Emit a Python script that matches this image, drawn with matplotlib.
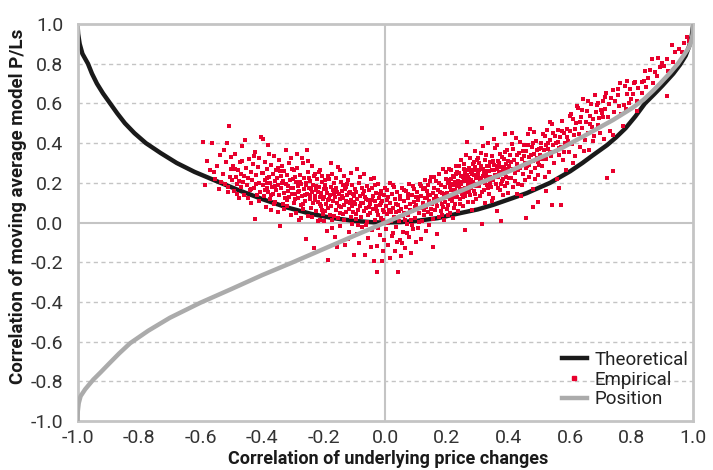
import numpy as np
import matplotlib.pyplot as plt
from matplotlib.lines import Line2D

"""
Correlation of moving average model P/Ls against correlation of the
underlying price changes: theoretical curve, empirical points, position.
"""

plt.rcParams['font.family'] = ['Roboto', 'DejaVu Sans']

# Theoretical curve
theo_x = [-1.0, -0.998, -0.993, -0.984, -0.966, -0.953, -0.937, -0.917, -0.894, -0.871, -0.846,
          -0.815, -0.778, -0.73, -0.678, -0.62, -0.548, -0.472, -0.4, -0.32, -0.24, -0.17,
          -0.1, -0.04, 0.0, 0.05, 0.1, 0.17, 0.242, 0.3, 0.35, 0.4, 0.459, 0.535, 0.6,
          0.64, 0.675, 0.72, 0.75, 0.78, 0.812, 0.843, 0.872, 0.9, 0.935, 0.957, 0.975,
          0.987, 0.995, 1.0]
theo_y = [1.0, 0.95, 0.9, 0.85, 0.8, 0.75, 0.7, 0.65, 0.6, 0.55, 0.5,
          0.45, 0.4, 0.35, 0.3, 0.255, 0.208, 0.16, 0.118, 0.076, 0.043, 0.022,
          0.008, 0.001, 0.0, 0.002, 0.008, 0.022, 0.047, 0.066, 0.089, 0.116, 0.148, 0.2, 0.258,
          0.3, 0.34, 0.39, 0.43, 0.475, 0.535, 0.6, 0.645, 0.69, 0.75, 0.795, 0.84,
          0.89, 0.94, 1.0]

# Position curve
pos_x = [-1.0, -0.999, -0.996, -0.99, -0.975, -0.949, -0.925, -0.9, -0.865, -0.829, -0.77,
         -0.7, -0.602, -0.5, -0.4, -0.3, -0.2, -0.1, 0.0, 0.1, 0.2, 0.3, 0.405, 0.5,
         0.567, 0.65, 0.74, 0.8, 0.838, 0.87, 0.892, 0.924, 0.95, 0.97, 0.985, 0.993,
         0.998, 1.0]
pos_y = [-1.0, -0.95, -0.91, -0.875, -0.84, -0.792, -0.755, -0.715, -0.66, -0.608, -0.545,
         -0.48, -0.405, -0.335, -0.265, -0.2, -0.133, -0.066, 0.0, 0.066, 0.13, 0.195, 0.26, 0.325,
         0.37, 0.44, 0.517, 0.575, 0.618, 0.665, 0.7, 0.753, 0.8, 0.845, 0.88, 0.91,
         0.95, 1.0]

# Empirical points (x, y), grouped by x band
empirical = [
    # -0.6 .. -0.5
    (-0.592, 0.405), (-0.563, 0.403), (-0.515, 0.400), (-0.508, 0.484), (-0.578, 0.312), (-0.571, 0.262),
    (-0.553, 0.218), (-0.547, 0.287), (-0.541, 0.168), (-0.536, 0.341), (-0.529, 0.242), (-0.522, 0.196),
    (-0.518, 0.305), (-0.512, 0.153), (-0.506, 0.227), (-0.502, 0.269), (-0.585, 0.187), (-0.558, 0.252),
    (-0.533, 0.205), (-0.525, 0.366), (-0.511, 0.181), (-0.503, 0.332),
    # -0.5 .. -0.4
    (-0.497, 0.212), (-0.494, 0.286), (-0.491, 0.158), (-0.488, 0.347), (-0.485, 0.231), (-0.482, 0.196),
    (-0.479, 0.264), (-0.476, 0.122), (-0.473, 0.305), (-0.470, 0.178), (-0.468, 0.243), (-0.465, 0.387),
    (-0.462, 0.205), (-0.459, 0.141), (-0.456, 0.417), (-0.453, 0.273), (-0.450, 0.189), (-0.447, 0.226),
    (-0.444, 0.318), (-0.441, 0.163), (-0.438, 0.252), (-0.436, 0.098), (-0.433, 0.214), (-0.430, 0.296),
    (-0.427, 0.175), (-0.424, 0.357), (-0.423, 0.019), (-0.421, 0.238), (-0.418, 0.137), (-0.415, 0.279),
    (-0.412, 0.201), (-0.409, 0.323), (-0.406, 0.156), (-0.404, 0.430), (-0.402, 0.247), (-0.419, 0.192),
    (-0.437, 0.169), (-0.458, 0.233), (-0.474, 0.208), (-0.489, 0.271), (-0.445, 0.121), (-0.428, 0.334),
    (-0.411, 0.109), (-0.466, 0.312), (-0.483, 0.144),
    # -0.4 .. -0.3
    (-0.398, 0.188), (-0.396, 0.251), (-0.394, 0.132), (-0.392, 0.306), (-0.390, 0.214), (-0.388, 0.077),
    (-0.386, 0.173), (-0.384, 0.268), (-0.382, 0.156), (-0.380, 0.389), (-0.378, 0.229), (-0.376, 0.118),
    (-0.374, 0.197), (-0.372, 0.291), (-0.370, 0.064), (-0.368, 0.181), (-0.366, 0.243), (-0.364, 0.142),
    (-0.362, 0.336), (-0.360, 0.207), (-0.358, 0.103), (-0.356, 0.262), (-0.354, 0.166), (-0.352, 0.224),
    (-0.350, 0.051), (-0.348, 0.188), (-0.346, 0.316), (-0.344, 0.137), (-0.342, -0.017), (-0.340, 0.235),
    (-0.338, 0.172), (-0.336, 0.284), (-0.334, 0.094), (-0.332, 0.209), (-0.330, 0.148), (-0.328, 0.257),
    (-0.326, 0.121), (-0.324, 0.363), (-0.322, 0.193), (-0.320, 0.082), (-0.318, 0.241), (-0.316, 0.159),
    (-0.314, 0.298), (-0.312, 0.127), (-0.310, 0.215), (-0.308, 0.039), (-0.306, 0.176), (-0.304, 0.268),
    (-0.302, 0.143), (-0.301, 0.221), (-0.391, 0.163), (-0.377, 0.347), (-0.363, 0.091), (-0.349, 0.273),
    (-0.335, 0.199), (-0.321, 0.113), (-0.307, 0.324), (-0.385, 0.225), (-0.371, 0.141), (-0.357, 0.185),
    (-0.343, 0.258), (-0.329, 0.068), (-0.315, 0.182), (-0.399, 0.421), (-0.383, 0.201),
    # -0.3 .. -0.2
    (-0.299, 0.172), (-0.297, 0.098), (-0.295, 0.231), (-0.293, 0.146), (-0.291, 0.047), (-0.289, 0.203),
    (-0.287, 0.274), (-0.285, 0.121), (-0.283, 0.185), (-0.281, 0.013), (-0.279, 0.157), (-0.277, 0.239),
    (-0.275, 0.086), (-0.273, 0.196), (-0.271, 0.131), (-0.269, 0.301), (-0.267, 0.067), (-0.265, 0.168),
    (-0.263, 0.222), (-0.261, 0.109), (-0.259, -0.084), (-0.257, 0.187), (-0.256, 0.366), (-0.254, 0.142),
    (-0.252, 0.254), (-0.250, 0.033), (-0.248, 0.176), (-0.246, 0.118), (-0.244, 0.209), (-0.242, 0.071),
    (-0.240, 0.153), (-0.238, 0.283), (-0.236, 0.097), (-0.234, 0.191), (-0.232, -0.129), (-0.230, 0.136),
    (-0.228, 0.244), (-0.226, 0.058), (-0.224, 0.163), (-0.222, 0.217), (-0.220, 0.104), (-0.218, 0.008),
    (-0.216, 0.179), (-0.214, 0.129), (-0.212, 0.262), (-0.210, 0.081), (-0.208, 0.148), (-0.206, 0.203),
    (-0.204, 0.042), (-0.202, 0.117), (-0.201, 0.171), (-0.296, 0.262), (-0.284, 0.152), (-0.272, 0.324),
    (-0.262, 0.141), (-0.249, 0.226), (-0.237, 0.026), (-0.225, 0.185), (-0.213, 0.093), (-0.205, 0.236),
    (-0.292, 0.119), (-0.278, 0.204), (-0.266, 0.091), (-0.253, 0.309), (-0.241, 0.167), (-0.229, 0.114),
    (-0.217, 0.252), (-0.207, 0.061), (-0.288, 0.345), (-0.274, 0.021), (-0.258, 0.198), (-0.245, 0.139),
    (-0.233, 0.232), (-0.219, 0.152), (-0.211, 0.011),
    # -0.2 .. -0.1
    (-0.199, 0.126), (-0.197, 0.058), (-0.195, 0.187), (-0.193, 0.094), (-0.191, -0.042), (-0.189, 0.151),
    (-0.187, -0.188), (-0.185, 0.113), (-0.183, 0.219), (-0.181, 0.036), (-0.179, 0.137), (-0.177, 0.083),
    (-0.175, 0.246), (-0.173, 0.011), (-0.171, 0.164), (-0.169, 0.107), (-0.167, 0.198), (-0.165, -0.071),
    (-0.163, 0.129), (-0.161, 0.062), (-0.159, 0.173), (-0.157, 0.097), (-0.155, 0.282), (-0.153, 0.024),
    (-0.151, 0.145), (-0.149, 0.118), (-0.147, -0.019), (-0.145, 0.206), (-0.143, 0.076), (-0.141, 0.159),
    (-0.139, 0.041), (-0.137, 0.124), (-0.135, 0.234), (-0.133, 0.089), (-0.131, -0.112), (-0.129, 0.177),
    (-0.127, 0.052), (-0.125, 0.138), (-0.123, 0.101), (-0.121, 0.212), (-0.119, -0.046), (-0.117, 0.069),
    (-0.115, 0.156), (-0.113, 0.115), (-0.111, 0.027), (-0.109, 0.188), (-0.107, 0.083), (-0.105, 0.142),
    (-0.103, -0.164), (-0.101, 0.104), (-0.196, 0.213), (-0.186, 0.071), (-0.176, 0.181), (-0.166, 0.031),
    (-0.156, 0.152), (-0.146, 0.264), (-0.136, 0.012), (-0.126, 0.196), (-0.116, 0.098), (-0.106, 0.052),
    (-0.192, 0.167), (-0.182, 0.118), (-0.172, -0.028), (-0.162, 0.226), (-0.152, 0.083), (-0.142, 0.131),
    (-0.132, 0.167), (-0.122, -0.083), (-0.112, 0.247), (-0.102, 0.136), (-0.198, 0.006), (-0.178, 0.298),
    (-0.158, -0.121), (-0.138, 0.191), (-0.118, 0.149), (-0.108, -0.007), (-0.188, 0.233), (-0.168, 0.143),
    (-0.148, 0.046), (-0.128, 0.109),
    # -0.1 .. 0.0
    (-0.099, 0.091), (-0.097, 0.017), (-0.095, 0.152), (-0.093, -0.058), (-0.091, 0.118), (-0.089, 0.063),
    (-0.087, 0.201), (-0.085, -0.103), (-0.083, 0.084), (-0.081, 0.136), (-0.079, 0.029), (-0.077, 0.172),
    (-0.075, -0.021), (-0.073, 0.099), (-0.071, 0.245), (-0.069, 0.056), (-0.067, -0.163), (-0.065, 0.127),
    (-0.063, 0.074), (-0.061, 0.183), (-0.059, 0.003), (-0.057, 0.111), (-0.055, -0.077), (-0.053, 0.162),
    (-0.051, 0.046), (-0.049, 0.093), (-0.047, 0.219), (-0.045, 0.173), (-0.043, -0.038), (-0.041, 0.132),
    (-0.039, 0.068), (-0.037, -0.192), (-0.035, 0.106), (-0.033, 0.014), (-0.031, 0.149), (-0.029, 0.081),
    (-0.027, -0.117), (-0.026, -0.250), (-0.025, 0.193), (-0.023, 0.037), (-0.021, 0.124), (-0.019, -0.061),
    (-0.017, 0.088), (-0.015, 0.157), (-0.013, 0.021), (-0.012, -0.196), (-0.011, 0.109), (-0.009, 0.064),
    (-0.007, -0.143), (-0.005, 0.138), (-0.003, 0.052), (-0.001, 0.176), (-0.094, 0.043), (-0.084, 0.231),
    (-0.074, 0.142), (-0.064, -0.011), (-0.054, 0.078), (-0.044, 0.114), (-0.034, 0.187), (-0.024, -0.026),
    (-0.014, 0.096), (-0.004, -0.089), (-0.098, 0.167), (-0.088, -0.012), (-0.078, 0.097), (-0.068, 0.158),
    (-0.058, 0.036), (-0.048, -0.124), (-0.038, 0.224), (-0.028, 0.059), (-0.018, 0.146), (-0.008, 0.011),
    (-0.092, 0.268), (-0.062, 0.119), (-0.032, 0.071),
    # 0.0 .. 0.1
    (0.001, 0.083), (0.003, -0.034), (0.004, 0.165), (0.006, 0.041), (0.008, -0.112), (0.010, 0.127),
    (0.012, 0.062), (0.014, -0.181), (0.016, 0.098), (0.018, 0.009), (0.020, 0.143), (0.022, -0.067),
    (0.024, 0.071), (0.026, 0.188), (0.028, 0.027), (0.030, -0.142), (0.032, 0.116), (0.034, 0.052),
    (0.036, -0.021), (0.038, 0.152), (0.040, 0.089), (0.042, -0.247), (0.044, 0.006), (0.046, 0.131),
    (0.048, -0.088), (0.050, -0.171), (0.052, 0.068), (0.054, 0.174), (0.056, 0.031), (0.058, -0.046),
    (0.060, 0.109), (0.062, 0.047), (0.064, -0.128), (0.066, 0.158), (0.068, 0.079), (0.070, -0.009),
    (0.072, 0.121), (0.074, 0.038), (0.076, -0.073), (0.078, 0.192), (0.080, 0.094), (0.082, 0.015),
    (0.084, -0.156), (0.086, 0.137), (0.088, 0.058), (0.090, -0.031), (0.092, 0.103), (0.094, 0.169),
    (0.096, 0.024), (0.098, -0.097), (0.005, 0.112), (0.015, 0.201), (0.025, -0.052), (0.035, 0.092),
    (0.045, 0.057), (0.055, -0.102), (0.065, 0.012), (0.075, 0.146), (0.085, -0.014), (0.095, 0.077),
    (0.009, -0.004), (0.019, 0.051), (0.029, 0.177), (0.039, -0.099), (0.049, 0.119), (0.059, 0.163),
    (0.069, -0.054), (0.079, 0.062), (0.089, 0.183), (0.099, 0.128),
    # 0.1 .. 0.2
    (0.101, 0.087), (0.103, 0.152), (0.105, -0.026), (0.107, 0.113), (0.109, 0.046), (0.111, 0.196),
    (0.113, 0.071), (0.115, -0.083), (0.117, 0.134), (0.119, 0.009), (0.121, 0.168), (0.123, 0.098),
    (0.125, 0.037), (0.127, 0.214), (0.129, 0.121), (0.131, -0.041), (0.133, 0.079), (0.135, 0.157),
    (0.137, 0.053), (0.139, 0.189), (0.141, 0.106), (0.143, -0.012), (0.145, 0.141), (0.147, 0.068),
    (0.149, 0.231), (0.151, 0.092), (0.153, 0.017), (0.155, -0.121), (0.157, 0.173), (0.159, 0.119),
    (0.161, 0.061), (0.163, 0.207), (0.165, 0.136), (0.167, -0.058), (0.169, 0.084), (0.171, 0.162),
    (0.173, 0.029), (0.175, 0.244), (0.177, 0.113), (0.179, 0.187), (0.181, 0.056), (0.183, 0.148),
    (0.185, 0.092), (0.187, 0.271), (0.189, 0.131), (0.191, 0.012), (0.193, 0.178), (0.195, 0.102),
    (0.197, 0.221), (0.199, 0.066), (0.104, 0.126), (0.114, 0.183), (0.124, 0.061), (0.134, 0.121),
    (0.144, 0.209), (0.154, 0.147), (0.164, 0.101), (0.174, 0.201), (0.184, 0.037), (0.194, 0.143),
    (0.108, 0.004), (0.118, 0.073), (0.128, 0.176), (0.138, 0.137), (0.148, 0.043), (0.158, 0.228),
    (0.168, 0.119), (0.178, 0.152), (0.188, 0.078), (0.198, 0.254),
    # 0.2 .. 0.3
    (0.201, 0.151), (0.203, 0.086), (0.205, 0.213), (0.207, 0.128), (0.209, 0.047), (0.211, 0.178),
    (0.213, 0.262), (0.215, 0.109), (0.217, 0.196), (0.219, 0.141), (0.221, 0.023), (0.223, 0.231),
    (0.225, 0.162), (0.227, 0.094), (0.229, 0.287), (0.231, 0.184), (0.233, 0.126), (0.235, 0.207),
    (0.237, 0.058), (0.239, 0.248), (0.241, 0.169), (0.243, 0.117), (0.245, 0.313), (0.247, 0.193),
    (0.249, 0.142), (0.251, 0.227), (0.253, 0.081), (0.255, 0.268), (0.257, 0.176), (0.258, -0.037),
    (0.259, 0.211), (0.261, 0.153), (0.263, 0.338), (0.265, 0.238), (0.267, 0.104), (0.269, 0.189),
    (0.271, 0.276), (0.273, 0.221), (0.275, 0.137), (0.277, 0.253), (0.279, 0.173), (0.281, 0.061),
    (0.283, 0.297), (0.285, 0.204), (0.287, 0.241), (0.289, 0.158), (0.291, 0.362), (0.293, 0.224),
    (0.295, 0.119), (0.297, 0.267), (0.299, 0.196), (0.202, 0.197), (0.206, 0.272), (0.210, 0.119),
    (0.214, 0.163), (0.218, 0.236), (0.222, 0.072), (0.226, 0.204), (0.230, 0.143), (0.234, 0.254),
    (0.238, 0.188), (0.242, 0.091), (0.246, 0.236), (0.250, 0.171), (0.254, 0.293), (0.258, 0.134),
    (0.262, 0.214), (0.266, 0.262), (0.270, 0.156), (0.274, 0.327), (0.278, 0.214), (0.282, 0.242),
    (0.286, 0.103), (0.290, 0.281), (0.294, 0.186), (0.298, 0.314), (0.204, 0.039), (0.212, 0.218),
    (0.220, 0.187), (0.228, 0.246), (0.236, 0.152), (0.244, 0.204), (0.252, 0.126), (0.260, 0.251),
    (0.264, 0.408), (0.268, 0.229), (0.276, 0.183), (0.284, 0.262), (0.292, 0.146), (0.296, 0.233),
    (0.224, 0.129), (0.240, 0.283), (0.256, 0.218), (0.272, 0.197), (0.288, 0.307),
    # 0.3 .. 0.4
    (0.301, 0.243), (0.303, 0.182), (0.305, 0.298), (0.307, 0.131), (0.309, 0.226), (0.311, 0.351),
    (0.313, 0.475), (0.313, -0.007), (0.315, 0.204), (0.317, 0.272), (0.319, 0.163), (0.321, 0.249),
    (0.323, 0.316), (0.325, 0.097), (0.327, 0.219), (0.329, 0.284), (0.331, 0.187), (0.333, 0.401),
    (0.335, 0.257), (0.337, 0.142), (0.339, 0.231), (0.341, 0.306), (0.343, 0.178), (0.345, 0.264),
    (0.347, 0.336), (0.349, 0.213), (0.351, 0.121), (0.353, 0.289), (0.355, 0.241), (0.357, 0.373),
    (0.359, 0.196), (0.361, 0.268), (0.363, 0.057), (0.365, 0.227), (0.367, 0.311), (0.369, 0.253),
    (0.371, 0.164), (0.373, 0.347), (0.375, 0.009), (0.377, 0.282), (0.379, 0.209), (0.381, 0.263),
    (0.383, 0.138), (0.385, 0.322), (0.387, 0.246), (0.388, 0.447), (0.389, 0.186), (0.391, 0.293),
    (0.393, 0.231), (0.395, 0.366), (0.397, 0.271), (0.399, 0.148), (0.302, 0.326), (0.306, 0.216),
    (0.310, 0.287), (0.314, 0.153), (0.318, 0.232), (0.322, 0.201), (0.326, 0.342), (0.330, 0.258),
    (0.334, 0.172), (0.338, 0.284), (0.342, 0.223), (0.346, 0.108), (0.350, 0.312), (0.354, 0.267),
    (0.358, 0.233), (0.362, 0.392), (0.366, 0.176), (0.370, 0.298), (0.374, 0.242), (0.378, 0.331),
    (0.382, 0.217), (0.386, 0.281), (0.390, 0.354), (0.394, 0.199), (0.398, 0.311), (0.304, 0.262),
    (0.316, 0.387), (0.328, 0.239), (0.340, 0.199), (0.352, 0.419), (0.364, 0.287), (0.376, 0.193),
    (0.392, 0.262),
    # 0.4 .. 0.5
    (0.401, 0.287), (0.404, 0.341), (0.407, 0.226), (0.410, 0.394), (0.413, 0.268), (0.416, 0.179),
    (0.419, 0.317), (0.422, 0.251), (0.425, 0.426), (0.428, 0.296), (0.431, 0.193), (0.434, 0.352),
    (0.437, 0.274), (0.440, 0.134), (0.443, 0.318), (0.446, 0.243), (0.449, 0.389), (0.452, 0.301),
    (0.455, 0.213), (0.457, 0.025), (0.458, 0.361), (0.461, 0.286), (0.464, 0.448), (0.467, 0.331),
    (0.470, 0.470), (0.472, 0.256), (0.475, 0.379), (0.478, 0.308), (0.481, 0.167), (0.484, 0.346),
    (0.487, 0.277), (0.490, 0.412), (0.493, 0.323), (0.496, 0.239), (0.499, 0.368), (0.478, 0.078),
    (0.497, 0.101), (0.402, 0.223), (0.408, 0.306), (0.414, 0.371), (0.420, 0.208), (0.426, 0.338),
    (0.432, 0.262), (0.438, 0.405), (0.444, 0.189), (0.450, 0.337), (0.456, 0.274), (0.462, 0.391),
    (0.468, 0.229), (0.474, 0.341), (0.480, 0.398), (0.486, 0.218), (0.492, 0.363), (0.498, 0.291),
    (0.411, 0.452), (0.429, 0.142), (0.447, 0.358), (0.466, 0.289), (0.483, 0.454), (0.494, 0.304),
    # 0.5 .. 0.6
    (0.502, 0.342), (0.505, 0.401), (0.508, 0.287), (0.511, 0.446), (0.514, 0.363), (0.517, 0.231),
    (0.520, 0.392), (0.522, 0.161), (0.523, 0.318), (0.526, 0.468), (0.529, 0.371), (0.532, 0.254),
    (0.535, 0.418), (0.538, 0.336), (0.541, 0.497), (0.542, 0.088), (0.544, 0.389), (0.547, 0.298),
    (0.550, 0.437), (0.553, 0.362), (0.556, 0.221), (0.559, 0.408), (0.562, 0.468), (0.564, 0.173),
    (0.565, 0.341), (0.568, 0.429), (0.570, 0.088), (0.571, 0.382), (0.574, 0.512), (0.577, 0.315),
    (0.580, 0.453), (0.583, 0.398), (0.586, 0.267), (0.589, 0.472), (0.592, 0.412), (0.595, 0.354),
    (0.598, 0.536), (0.504, 0.374), (0.510, 0.318), (0.518, 0.434), (0.527, 0.402), (0.536, 0.357),
    (0.545, 0.452), (0.554, 0.402), (0.563, 0.376), (0.572, 0.459), (0.581, 0.356), (0.590, 0.431),
    (0.599, 0.398), (0.533, 0.506),
    # 0.6 .. 0.7
    (0.601, 0.462), (0.605, 0.394), (0.608, 0.523), (0.612, 0.441), (0.615, 0.334), (0.619, 0.502),
    (0.622, 0.586), (0.626, 0.576), (0.629, 0.448), (0.633, 0.381), (0.636, 0.532), (0.640, 0.474),
    (0.643, 0.621), (0.647, 0.417), (0.650, 0.508), (0.654, 0.561), (0.657, 0.452), (0.661, 0.364),
    (0.664, 0.537), (0.668, 0.598), (0.671, 0.483), (0.675, 0.522), (0.678, 0.436), (0.682, 0.641),
    (0.685, 0.557), (0.689, 0.492), (0.692, 0.604), (0.696, 0.451), (0.699, 0.568), (0.603, 0.547),
    (0.617, 0.471), (0.631, 0.505), (0.645, 0.358), (0.659, 0.612), (0.673, 0.411), (0.687, 0.592),
    (0.610, 0.298), (0.638, 0.566), (0.666, 0.496), (0.694, 0.527),
    # 0.7 .. 0.8
    (0.702, 0.553), (0.706, 0.612), (0.710, 0.422), (0.714, 0.574), (0.719, 0.224), (0.718, 0.652),
    (0.722, 0.531), (0.726, 0.598), (0.730, 0.463), (0.734, 0.627), (0.738, 0.668), (0.740, 0.257),
    (0.742, 0.556), (0.746, 0.611), (0.740, 0.442), (0.754, 0.642), (0.758, 0.586), (0.762, 0.703),
    (0.766, 0.547), (0.773, 0.484), (0.774, 0.592), (0.778, 0.688), (0.782, 0.571), (0.786, 0.646),
    (0.790, 0.603), (0.794, 0.672), (0.798, 0.624), (0.708, 0.534), (0.713, 0.632), (0.756, 0.671),
    (0.784, 0.712),
    # 0.8 .. 0.9
    (0.803, 0.648), (0.808, 0.701), (0.811, 0.709), (0.816, 0.612), (0.822, 0.677), (0.832, 0.710),
    (0.834, 0.654), (0.840, 0.714), (0.846, 0.682), (0.854, 0.727), (0.858, 0.768), (0.865, 0.823),
    (0.870, 0.702), (0.876, 0.756), (0.882, 0.737), (0.886, 0.831), (0.892, 0.781), (0.898, 0.806),
    (0.843, 0.762), (0.818, 0.563),
    # 0.9 .. 1.0
    (0.905, 0.789), (0.914, 0.823), (0.917, 0.764), (0.914, 0.635), (0.930, 0.895), (0.934, 0.811),
    (0.940, 0.861), (0.954, 0.872), (0.962, 0.861), (0.971, 0.905), (0.980, 0.934), (0.985, 0.912),
]
emp_x = [p[0] for p in empirical]
emp_y = [p[1] for p in empirical]

ticks = [-1.0, -0.8, -0.6, -0.4, -0.2, 0.0, 0.2, 0.4, 0.6, 0.8, 1.0]
tick_labels = ['-1.0', '-0.8', '-0.6', '-0.4', '-0.2', '0.0', '0.2', '0.4', '0.6', '0.8', '1.0']

fig = plt.figure(figsize=(7.13, 4.70), dpi=100)
ax = fig.add_axes([77.5 / 713, 1 - 421 / 470, 615.8 / 713, 397 / 470])

# Grid: dashed at every 0.2, solid through zero
for t in ticks[1:-1]:
    if t == 0.0:
        continue
    ax.axhline(t, color='#c4c4c4', lw=1.0, ls=(0, (3, 2.5)), zorder=0)
ax.axhline(0, color='#c4c4c4', lw=1.5, zorder=0)
ax.axvline(0, color='#c4c4c4', lw=1.5, zorder=0)

ax.plot(theo_x, theo_y, color='#1a1a1a', lw=3.2, solid_capstyle='butt', zorder=2)
ax.scatter(emp_x, emp_y, marker='s', s=7, color='#e8002d', linewidths=0, zorder=3)
ax.plot(pos_x, pos_y, color='#ababab', lw=3.2, solid_capstyle='butt', zorder=4)

ax.set_xlim(-1, 1)
ax.set_ylim(-1, 1)
ax.set_xticks(ticks)
ax.set_xticklabels(tick_labels)
ax.set_yticks(ticks)
ax.set_yticklabels(tick_labels)
ax.tick_params(length=0, labelsize=14, labelcolor='#333333')
ax.tick_params(axis='y', pad=10)
ax.tick_params(axis='x', pad=6)

for s in ax.spines.values():
    s.set_color('#c4c4c4')
    s.set_linewidth(2)

ax.set_xlabel('Correlation of underlying price changes', fontsize=13, fontweight='bold', color='#1a1a1a')
ax.set_ylabel('Correlation of moving average model P/Ls', fontsize=13.5, fontweight='bold', color='#1a1a1a')
ax.xaxis.set_label_coords(0.504, -0.072)
ax.yaxis.set_label_coords(-0.082, 0.54)

handles = [Line2D([], [], color='#1a1a1a', lw=3.2),
           Line2D([], [], color='#e8002d', marker='s', markersize=3.5, lw=0),
           Line2D([], [], color='#ababab', lw=3.2)]
ax.legend(handles, ['Theoretical', 'Empirical', 'Position'], loc='lower right',
          bbox_to_anchor=(1.008, 0.008), frameon=False, fontsize=13.5, handlelength=1.3,
          handletextpad=0.45, labelspacing=0.1, borderpad=0, labelcolor='#222222')

fig.savefig('out.png', dpi=100)
